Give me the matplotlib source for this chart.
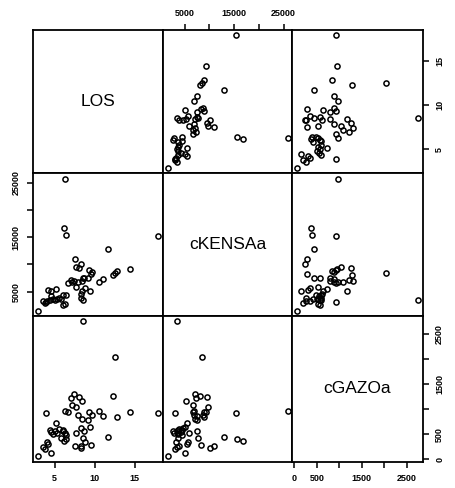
import matplotlib
matplotlib.use("Agg")
import matplotlib.pyplot as plt

plt.rcParams['font.family'] = ['Liberation Sans', 'DejaVu Sans']

var_names = ["LOS", "cKENSAa", "cGAZOa"]

los = [2.9, 8.6, 6.25, 17.9, 12.5, 11.7, 6.2, 6.4, 3.9, 14.4,
       12.8, 12.3, 10.5, 11.0, 9.3, 9.7, 9.2, 7.4, 8.0, 8.4,
       7.0, 7.2, 7.7, 6.7, 7.9, 8.45, 5.2, 4.4, 4.6, 5.0,
       5.3, 6.0, 6.25, 6.45, 7.7, 8.3, 8.7, 8.5, 4.0, 4.2,
       3.75, 4.5, 7.5, 8.3, 8.35, 8.75, 9.45, 3.55, 4.8, 5.55,
       5.85, 6.1, 9.6]
kensa = [1500, 3400, 25800, 15300, 8400, 12900, 16700, 15500, 3100, 9200,
         8800, 8000, 6800, 7400, 8900, 8700, 7450, 7000, 9400, 5200,
         7200, 6700, 9600, 6600, 6850, 7000, 5500, 3540, 4270, 3480,
         3660, 4390, 2800, 4390, 5800, 4600, 7500, 7600, 3300, 5400,
         3000, 5100, 11000, 3800, 10100, 5700, 5100, 3360, 3660, 3800,
         3650, 2560, 8300]
gazo = [60, 2745, 965, 930, 2040, 440, 360, 400, 930, 940,
        840, 1270, 960, 870, 935, 880, 780, 1300, 1250, 1170,
        1220, 1080, 1045, 935, 890, 800, 720, 587, 553, 567,
        533, 587, 533, 480, 520, 620, 567, 433, 340, 300,
        200, 135, 270, 265, 230, 340, 640, 250, 500, 600,
        420, 560, 290]

data = [los, kensa, gazo]
tick_vals = [[5, 10, 15],
             [5000, 10000, 15000, 20000, 25000],
             [0, 500, 1000, 1500, 2000, 2500]]
tick_labels = [["5", "10", "15"],
               ["5000", "", "15000", "", "25000"],
               ["0", "500", "", "1500", "", "2500"]]

W, H = 455, 488
fig = plt.figure(figsize=(W / 100, H / 100), dpi=100)
xe = [33, 162.7, 292.3, 422.7]
ye = [30, 173.3, 316, 461.7]


def lims(v):
    lo, hi = min(v), max(v)
    r = hi - lo
    return lo - 0.04 * r, hi + 0.04 * r


tick_font = dict(fontsize=6.5, fontweight='bold')

for i in range(3):
    for j in range(3):
        x0, x1 = xe[j], xe[j + 1]
        y0, y1 = ye[i], ye[i + 1]
        ax = fig.add_axes([x0 / W, 1 - y1 / H, (x1 - x0) / W, (y1 - y0) / H])
        ax.set_xlim(*lims(data[j]))
        ax.set_ylim(*lims(data[i]))
        for s in ax.spines.values():
            s.set_linewidth(1.3)
        ax.set_xticks([])
        ax.set_yticks([])
        if i == j:
            ax.text(0.5, 0.5, var_names[i], transform=ax.transAxes,
                    ha='center', va='center', fontsize=12.5)
        else:
            ax.plot(data[j], data[i], 'o', mfc='none', mec='black',
                    ms=3.7, mew=1.1, linestyle='none')
        # x axes: col 0 bottom, col 1 top, col 2 bottom
        if (j == 0 and i == 2) or (j == 2 and i == 2):
            ax.set_xticks(tick_vals[j])
            ax.set_xticklabels(tick_labels[j], **tick_font)
            ax.tick_params(axis='x', direction='out', length=4, width=1.1, pad=5)
        if j == 1 and i == 0:
            ax.xaxis.tick_top()
            ax.set_xticks(tick_vals[j])
            ax.set_xticklabels(tick_labels[j], **tick_font)
            ax.tick_params(axis='x', direction='out', length=4, width=1.1, pad=5)
        # y axes: row 0 right, row 1 left, row 2 right
        if (i == 0 and j == 2) or (i == 2 and j == 2):
            ax.yaxis.tick_right()
            ax.set_yticks(tick_vals[i])
            ax.set_yticklabels(tick_labels[i], rotation=90, va='center', **tick_font)
            ax.tick_params(axis='y', direction='out', length=4, width=1.1, pad=5)
        if i == 1 and j == 0:
            ax.set_yticks(tick_vals[i])
            ax.set_yticklabels(tick_labels[i], rotation=90, va='center', **tick_font)
            ax.tick_params(axis='y', direction='out', length=4, width=1.1, pad=5)

fig.savefig("out.png", dpi=100)
